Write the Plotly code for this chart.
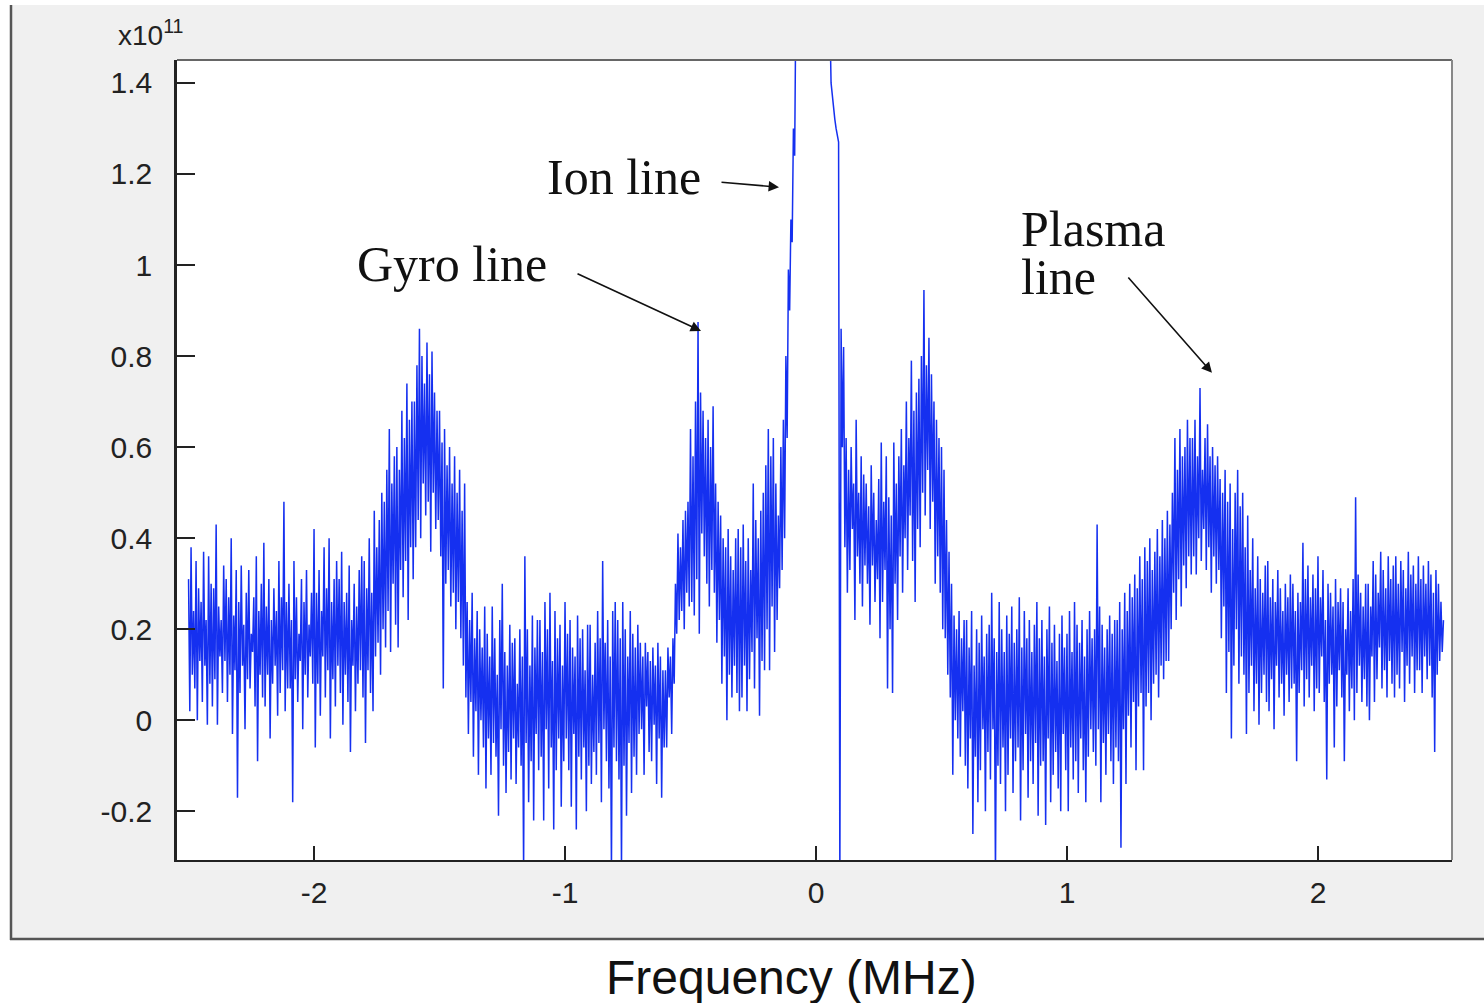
import plotly.graph_objects as go

# ---- data (spectrum power, units of 1e11) ----
# The trace alternates between local maxima ("peaks", on the 0.01 MHz grid)
# and local minima ("dips", half-way between), as in the noisy spectrum.
freq_start = -2.50   # MHz
freq_step = 0.005    # MHz

peaks_band_left = [
    0.31, 0.38, 0.24, 0.35, 0.29, 0.26, 0.37, 0.22, 0.36, 0.30,
    0.29, 0.43, 0.25, 0.22, 0.34, 0.31, 0.27, 0.40, 0.23, 0.33,
    0.26, 0.34, 0.21, 0.28, 0.33, 0.19, 0.27, 0.36, 0.24, 0.30,
    0.39, 0.25, 0.31, 0.22, 0.29, 0.24, 0.35, 0.27, 0.48, 0.26,
    0.30, 0.22, 0.35, 0.27, 0.19, 0.31, 0.26, 0.33, 0.21, 0.28,
    0.42, 0.28, 0.33, 0.24, 0.38, 0.29, 0.40, 0.26, 0.31, 0.35,
    0.31, 0.37, 0.26, 0.28, 0.34, 0.22, 0.30, 0.25, 0.33, 0.36,
    0.35, 0.29, 0.40, 0.28, 0.46, 0.38, 0.44, 0.50, 0.48, 0.55,
]
dips_band_left = [
    0.02, 0.10, 0.07, 0.00, 0.13, 0.04, 0.12, -0.01, 0.08, 0.03,
    0.09, -0.01, 0.14, 0.06, 0.13, 0.04, 0.10, -0.03, 0.11, -0.17,
    0.06, 0.12, -0.02, 0.09, 0.07, 0.15, 0.03, -0.09, 0.10, 0.05,
    0.03, 0.10, -0.04, 0.08, 0.12, 0.01, 0.06, 0.11, 0.02, 0.07,
    0.07, -0.18, 0.09, 0.04, 0.13, -0.02, 0.10, 0.05, 0.14, 0.08,
    -0.06, 0.08, 0.01, 0.14, 0.05, 0.11, -0.04, 0.09, 0.03, 0.12,
    0.06, -0.01, 0.10, 0.04, -0.07, 0.12, 0.02, 0.08, 0.11, 0.05,
    -0.05, 0.11, 0.06, 0.02, 0.14, 0.17, 0.10, 0.20, 0.16, 0.24,
]
peaks_plasma_left = [
    0.64, 0.52, 0.58, 0.60, 0.55, 0.68, 0.62, 0.74, 0.66, 0.70,
    0.70, 0.78, 0.86, 0.80, 0.74, 0.83, 0.76, 0.81, 0.72, 0.68,
    0.68, 0.61, 0.64, 0.56, 0.60, 0.52, 0.58, 0.50, 0.55, 0.46,
]
dips_plasma_left = [
    0.15, 0.30, 0.21, 0.16, 0.33, 0.27, 0.35, 0.22, 0.38, 0.31,
    0.38, 0.44, 0.40, 0.52, 0.45, 0.48, 0.37, 0.50, 0.42, 0.44,
    0.36, 0.07, 0.30, 0.33, 0.25, 0.28, 0.20, 0.26, 0.18, 0.12,
]
peaks_trough_left = [
    0.52, 0.26, 0.22, 0.28, 0.18, 0.24, 0.20, 0.16, 0.25, 0.19,
    0.14, 0.25, 0.18, 0.10, 0.22, 0.30, 0.15, 0.12, 0.21, 0.17,
    0.18, 0.08, 0.20, 0.14, 0.36, 0.20, 0.12, 0.23, 0.16, 0.22,
    0.22, 0.15, 0.26, 0.20, 0.28, 0.13, 0.24, 0.18, 0.21, 0.12,
    0.26, 0.19, 0.22, 0.16, 0.14, 0.23, 0.18, 0.20, 0.11, 0.21,
    0.21, 0.10, 0.17, 0.24, 0.18, 0.35, 0.17, 0.22, 0.14, 0.24,
    0.26, 0.22, 0.18, 0.26, 0.20, 0.14, 0.24, 0.19, 0.16, 0.21,
    0.17, 0.14, 0.17, 0.15, 0.13, 0.16, 0.12, 0.17, 0.14, 0.11,
    0.11, 0.16, 0.14, 0.18, 0.30, 0.41, 0.38, 0.44, 0.46, 0.48,
]
dips_trough_left = [
    0.05, -0.03, 0.04, -0.08, 0.02, -0.12, 0.00, -0.06, -0.15, -0.04,
    -0.12, -0.05, -0.08, -0.21, -0.02, -0.10, -0.16, -0.07, -0.13, -0.04,
    -0.14, -0.06, -0.10, -0.33, -0.05, -0.18, -0.09, -0.22, -0.03, -0.11,
    -0.08, -0.22, -0.02, -0.15, -0.06, -0.24, -0.11, -0.04, -0.19, -0.09,
    -0.04, -0.11, -0.19, -0.03, -0.24, -0.08, -0.13, -0.06, -0.20, -0.10,
    -0.14, -0.07, -0.12, -0.05, -0.18, -0.02, -0.09, -0.15, -0.33, -0.06,
    -0.09, -0.13, -0.33, -0.10, -0.21, -0.05, -0.16, -0.08, -0.12, -0.03,
    -0.02, -0.12, 0.03, -0.07, -0.09, -0.01, -0.14, -0.04, -0.17, -0.06,
    -0.06, 0.05, -0.03, 0.08, 0.19, 0.22, 0.24, 0.20, 0.28, 0.25,
]
peaks_gyro_left = [
    0.64, 0.58, 0.70, 0.875, 0.72, 0.68, 0.62, 0.66, 0.60, 0.69,
    0.52, 0.48, 0.45, 0.40, 0.38, 0.42, 0.36, 0.33, 0.40, 0.42,
    0.38, 0.43, 0.35, 0.40, 0.33, 0.52, 0.44, 0.40, 0.46, 0.50,
    0.56, 0.64, 0.58, 0.62, 0.52, 0.45, 0.60, 0.66, 0.80, 0.99,
]
dips_gyro_left = [
    0.26, 0.23, 0.31, 0.19, 0.41, 0.36, 0.30, 0.25, 0.33, 0.28,
    0.17, 0.22, 0.08, 0.14, 0.00, 0.10, 0.05, 0.12, 0.06, 0.02,
    0.05, 0.12, 0.02, 0.09, 0.15, 0.07, 0.18, 0.01, 0.13, 0.11,
    0.20, 0.11, 0.25, 0.15, 0.22, 0.29, 0.33, 0.40, 0.62, 0.90,
]
peaks_ion_line = [
    1.10, 1.30, 1.60, 2.00, 2.40, 2.80, 3.10, 3.30, 3.45, 3.55,
    3.60, 3.50, 3.30, 2.90, 2.30, 1.70, 1.40, 1.35, 1.30, 1.27,
]
dips_ion_line = [
    1.05, 1.24, 1.50, 1.90, 2.30, 2.70, 3.00, 3.25, 3.40, 3.50,
    3.55, 3.40, 3.10, 2.60, 2.00, 1.55, 1.37, 1.32, 1.28, -0.36,
]
peaks_gyro_right = [
    0.86, 0.82, 0.62, 0.55, 0.60, 0.52, 0.66, 0.50, 0.58, 0.54,
    0.52, 0.47, 0.56, 0.50, 0.44, 0.53, 0.61, 0.48, 0.58, 0.49,
    0.45, 0.61, 0.52, 0.58, 0.64, 0.56, 0.70, 0.62, 0.79, 0.68,
    0.72, 0.75, 0.80, 0.945, 0.78, 0.84, 0.76, 0.70, 0.66, 0.62,
    0.60, 0.55, 0.44, 0.37, 0.30, 0.23, 0.20, 0.24, 0.18, 0.22,
]
dips_gyro_right = [
    0.60, 0.38, 0.28, 0.33, 0.42, 0.22, 0.36, 0.30, 0.25, 0.34,
    0.30, 0.21, 0.34, 0.26, 0.31, 0.18, 0.26, 0.33, 0.07, 0.20,
    0.06, 0.30, 0.22, 0.36, 0.28, 0.40, 0.33, 0.45, 0.35, 0.26,
    0.42, 0.38, 0.50, 0.45, 0.55, 0.42, 0.48, 0.30, 0.36, 0.28,
    0.20, 0.18, 0.10, 0.05, -0.12, 0.00, -0.04, -0.08, 0.02, -0.10,
]
peaks_trough_right = [
    0.22, 0.16, 0.24, 0.12, 0.20, 0.17, 0.23, 0.14, 0.19, 0.21,
    0.28, 0.18, 0.15, 0.26, 0.20, 0.15, 0.23, 0.19, 0.25, 0.17,
    0.20, 0.27, 0.16, 0.24, 0.18, 0.22, 0.15, 0.21, 0.26, 0.18,
    0.22, 0.14, 0.20, 0.25, 0.17, 0.21, 0.13, 0.19, 0.23, 0.16,
    0.19, 0.24, 0.15, 0.26, 0.21, 0.17, 0.22, 0.14, 0.20, 0.24,
    0.18, 0.20, 0.43, 0.25, 0.21, 0.16, 0.20, 0.23, 0.19, 0.22,
    0.22, 0.26, 0.20, 0.28, 0.24, 0.30, 0.27, 0.32, 0.29, 0.36,
    0.31, 0.38, 0.35, 0.40, 0.33, 0.37, 0.42, 0.36, 0.44, 0.40,
]
dips_trough_right = [
    -0.15, -0.04, -0.25, -0.08, -0.18, -0.11, -0.02, -0.20, -0.07, -0.13,
    -0.02, -0.34, -0.10, -0.14, -0.06, -0.20, -0.12, -0.04, -0.16, -0.09,
    -0.06, -0.22, -0.11, -0.03, -0.17, -0.09, -0.14, -0.05, -0.21, -0.10,
    -0.09, -0.23, -0.04, -0.18, -0.12, -0.07, -0.15, -0.20, -0.03, -0.11,
    -0.20, -0.06, -0.13, -0.09, -0.16, -0.04, -0.11, -0.18, -0.08, -0.02,
    -0.07, -0.10, -0.02, -0.18, -0.05, -0.12, -0.03, -0.09, -0.14, -0.06,
    -0.09, -0.28, -0.02, -0.14, 0.01, -0.06, 0.04, -0.11, 0.03, 0.06,
    -0.11, 0.03, 0.06, 0.00, 0.08, 0.10, 0.05, 0.12, 0.09, 0.13,
]
peaks_plasma_right = [
    0.46, 0.43, 0.50, 0.62, 0.55, 0.64, 0.58, 0.60, 0.66, 0.62,
    0.62, 0.66, 0.58, 0.73, 0.55, 0.62, 0.65, 0.58, 0.60, 0.56,
    0.58, 0.53, 0.50, 0.55, 0.48, 0.52, 0.42, 0.50, 0.55, 0.47,
    0.50, 0.38, 0.45, 0.33, 0.40, 0.29, 0.36, 0.31, 0.28, 0.34,
]
dips_plasma_right = [
    0.13, 0.20, 0.28, 0.22, 0.31, 0.25, 0.34, 0.29, 0.36, 0.32,
    0.36, 0.32, 0.40, 0.35, 0.42, 0.33, 0.38, 0.28, 0.36, 0.30,
    0.33, 0.18, 0.25, 0.06, 0.15, -0.04, 0.12, 0.20, 0.08, 0.14,
    0.10, -0.03, 0.06, 0.12, 0.02, 0.08, -0.01, 0.06, 0.10, 0.04,
]
peaks_band_right = [
    0.35, 0.27, 0.31, 0.26, 0.33, 0.29, 0.24, 0.30, 0.27, 0.32,
    0.30, 0.24, 0.28, 0.26, 0.39, 0.31, 0.34, 0.27, 0.32, 0.29,
    0.36, 0.27, 0.33, 0.22, 0.30, 0.28, 0.25, 0.31, 0.26, 0.29,
    0.26, 0.20, 0.29, 0.24, 0.31, 0.49, 0.32, 0.28, 0.25, 0.30,
    0.30, 0.25, 0.35, 0.32, 0.28, 0.37, 0.33, 0.29, 0.36, 0.31,
    0.34, 0.36, 0.30, 0.35, 0.33, 0.29, 0.37, 0.32, 0.34, 0.30,
    0.36, 0.31, 0.34, 0.30, 0.35, 0.32, 0.28, 0.33, 0.30, 0.26,
    0.22,
]
dips_band_right = [
    0.02, 0.09, -0.02, 0.12, 0.05, 0.08, 0.01, 0.10, 0.04, 0.07,
    0.08, -0.09, 0.06, 0.11, 0.03, 0.09, 0.05, 0.12, 0.02, 0.07,
    0.06, 0.14, 0.04, -0.13, 0.08, 0.10, -0.06, 0.03, 0.11, 0.05,
    -0.09, 0.10, 0.02, 0.07, 0.00, 0.06, 0.12, 0.04, 0.09, 0.03,
    0.00, 0.14, 0.04, 0.09, 0.16, 0.07, 0.11, 0.05, 0.13, 0.08,
    0.05, 0.10, 0.07, 0.15, 0.04, 0.12, 0.08, 0.14, 0.06, 0.11,
    0.11, 0.06, 0.14, 0.09, 0.12, 0.05, -0.07, 0.10, 0.13, 0.15,
]

y_tickvals = [-0.2, 0, 0.2, 0.4, 0.6, 0.8, 1.0, 1.2, 1.4]
y_ticktext = ["-0.2", "0", "0.2", "0.4", "0.6", "0.8", "1", "1.2", "1.4"]
x_tickvals = [-2, -1, 0, 1, 2]
x_ticktext = ["-2", "-1", "0", "1", "2"]

peaks = (peaks_band_left + peaks_plasma_left + peaks_trough_left + peaks_gyro_left
         + peaks_ion_line + peaks_gyro_right + peaks_trough_right
         + peaks_plasma_right + peaks_band_right)
dips = (dips_band_left + dips_plasma_left + dips_trough_left + dips_gyro_left
        + dips_ion_line + dips_gyro_right + dips_trough_right
        + dips_plasma_right + dips_band_right)

power = []
for i, v in enumerate(peaks):
    power.append(v)
    if i < len(dips):
        power.append(dips[i])
freq = [round(freq_start + freq_step * i, 4) for i in range(len(power))]

# ---- figure ----
W, H = 1484, 1003
L, R, T, B = 177, 32, 60, 143
pw, ph = W - L - R, H - T - B


def px(x):
    return (x - L) / pw


def py(y):
    return (H - B - y) / ph


fig = go.Figure()
fig.add_trace(go.Scatter(
    x=freq, y=power, mode="lines",
    line=dict(color="#1530f0", width=1.5),
    hoverinfo="skip", showlegend=False,
))

shapes = [
    dict(type="rect", xref="paper", yref="paper", layer="below",
         x0=px(10), x1=px(1484), y0=py(940), y1=py(5),
         fillcolor="#f0f0f0", line=dict(width=0)),
    dict(type="line", xref="paper", yref="paper", layer="below",
         x0=px(11), x1=px(11), y0=py(940), y1=py(5),
         line=dict(color="#555555", width=2.5)),
    dict(type="line", xref="paper", yref="paper", layer="below",
         x0=px(10), x1=px(1484), y0=py(939), y1=py(939),
         line=dict(color="#555555", width=2.5)),
    dict(type="rect", xref="paper", yref="paper", layer="below",
         x0=0, x1=1, y0=0, y1=1, fillcolor="#ffffff", line=dict(width=0)),
    dict(type="line", xref="paper", yref="paper",
         x0=0, x1=1, y0=1, y1=1, line=dict(color="#666666", width=2)),
    dict(type="line", xref="paper", yref="paper",
         x0=1, x1=1, y0=0, y1=1, line=dict(color="#888888", width=2)),
]

serif = dict(family="Liberation Serif, Times New Roman, serif", size=50, color="#111111")
annotations = [
    dict(xref="paper", yref="paper", x=px(116), y=py(33), xanchor="left", yanchor="middle",
         text="x10<sup>11</sup>", showarrow=False,
         font=dict(family="Liberation Sans, Arial, sans-serif", size=28, color="#222222")),
    dict(xref="paper", yref="paper", x=px(791), y=py(977), xanchor="center", yanchor="middle",
         text="Frequency (MHz)", showarrow=False,
         font=dict(family="Liberation Sans, Arial, sans-serif", size=48, color="#111111")),
    dict(xref="paper", yref="paper", x=px(545), y=py(177), xanchor="left", yanchor="middle",
         text="Ion line", showarrow=False, font=serif),
    dict(xref="paper", yref="paper", x=px(355), y=py(264), xanchor="left", yanchor="middle",
         text="Gyro line", showarrow=False, font=serif),
    dict(xref="paper", yref="paper", x=px(1019), y=py(229), xanchor="left", yanchor="middle",
         text="Plasma", showarrow=False, font=serif, height=44, valign="middle"),
    dict(xref="paper", yref="paper", x=px(1019), y=py(277), xanchor="left", yanchor="middle",
         text="line", showarrow=False, font=serif, height=44, valign="middle"),
]


def to_f(x):
    return (x - 816) / 251.0


def to_v(y):
    return (720 - y) / 456.0


for (tx, ty, hx, hy) in [(720, 181, 779, 186), (576, 272, 701, 330), (1127, 275, 1212, 372)]:
    annotations.append(dict(
        x=to_f(hx), y=to_v(hy), ax=to_f(tx), ay=to_v(ty),
        xref="x", yref="y", axref="x", ayref="y",
        text="", showarrow=True, arrowhead=2, arrowsize=1.3,
        arrowwidth=1.6, arrowcolor="#111111", standoff=0,
    ))

tickfont = dict(family="Liberation Sans, Arial, sans-serif", size=30, color="#222222")

fig.update_layout(
    width=W, height=H,
    margin=dict(l=L, r=R, t=T, b=B, pad=0),
    paper_bgcolor="#ffffff",
    plot_bgcolor="rgba(0,0,0,0)",
    shapes=shapes,
    annotations=annotations,
    showlegend=False,
    xaxis=dict(
        range=[-2.546, 2.534], tickmode="array", tickvals=x_tickvals, ticktext=x_ticktext,
        ticks="inside", ticklen=14, tickwidth=2, tickcolor="#222222",
        showline=True, linecolor="#222222", linewidth=2, mirror=False,
        showgrid=False, zeroline=False, tickfont=tickfont, ticklabelstandoff=5,
    ),
    yaxis=dict(
        range=[-0.307, 1.4504], tickmode="array", tickvals=y_tickvals, ticktext=y_ticktext,
        ticks="inside", ticklen=18, tickwidth=2, tickcolor="#222222",
        showline=True, linecolor="#222222", linewidth=2.5, mirror=False,
        showgrid=False, zeroline=False, tickfont=tickfont, ticklabelstandoff=16,
    ),
)

fig.write_html("out.html")
